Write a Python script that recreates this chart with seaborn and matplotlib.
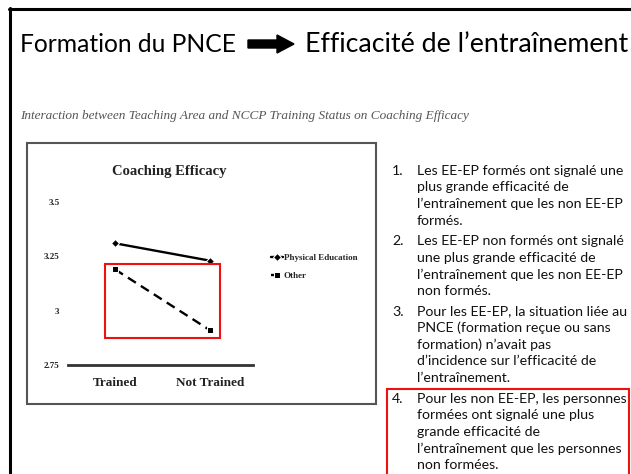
import matplotlib
matplotlib.use("Agg")
import matplotlib.pyplot as plt
import matplotlib.patches as mpatches
import seaborn as sns
import pandas as pd

# ---------------- data ----------------
conditions = ["Trained", "Not Trained"]
groups = ["Physical Education", "Other"]
pe_values = [3.31, 3.23]
other_values = [3.19, 2.91]
y_ticks = [2.75, 3.0, 3.25, 3.5]
y_tick_labels = ["2.75", "3", "3.25", "3.5"]

title_left = "Formation du PNCE"
title_right = "Efficacité de l\u2019entraînement"
subtitle = "Interaction between Teaching Area and NCCP Training Status on Coaching Efficacy"
chart_title = "Coaching Efficacy"
items = [
    ["Les EE-EP formés ont signalé une", "plus grande efficacité de",
     "l\u2019entraînement que les non EE-EP", "formés."],
    ["Les EE-EP non formés ont signalé", "une plus grande efficacité de",
     "l\u2019entraînement que les non EE-EP", "non formés."],
    ["Pour les EE-EP, la situation liée au", "PNCE (formation reçue ou sans",
     "formation) n\u2019avait pas", "d\u2019incidence sur l\u2019efficacité de",
     "l\u2019entraînement."],
    ["Pour les non EE-EP, les personnes", "formées ont signalé une plus",
     "grande efficacité de", "l\u2019entraînement que les personnes",
     "non formées."],
]

df = pd.DataFrame({
    "Condition": conditions * 2,
    "Efficacy": pe_values + other_values,
    "Group": [groups[0]] * 2 + [groups[1]] * 2,
})

# ---------------- figure ----------------
W, H = 631, 474
sns.set_theme(style="white")
fig = plt.figure(figsize=(W / 100, H / 100), dpi=100)
fig.patch.set_facecolor("white")
renderer = fig.canvas.get_renderer()

def fx(x):
    return x / W

def fy(y):
    return 1 - y / H

SANS = ["Lato", "DejaVu Sans"]
SERIF = ["Liberation Serif", "DejaVu Serif"]

def fit_size(strings, target_w, **kw):
    """font size so that the widest string is target_w pixels wide"""
    best = 0
    for s in strings:
        t = fig.text(0, 0, s, fontsize=10, **kw)
        best = max(best, t.get_window_extent(renderer).width)
        t.remove()
    return 10 * target_w / best

# slide frame
fig.add_artist(plt.Line2D([fx(10), fx(10)], [fy(8), fy(480)], color="black", lw=2.2))
fig.add_artist(plt.Line2D([fx(9), fx(640)], [fy(9), fy(9)], color="black", lw=2.2))

# title
ts_l = fit_size([title_left], 216, family=SANS)
ts_r = fit_size([title_right], 323, family=SANS)
fig.text(fx(20), fy(44), title_left, ha="left", va="center", fontsize=ts_l,
         family=SANS, color="black")
fig.text(fx(305), fy(44), title_right, ha="left", va="center", fontsize=ts_r,
         family=SANS, color="black")
arrow = mpatches.Polygon(
    [(fx(248), fy(40)), (fx(277), fy(40)), (fx(277), fy(35)), (fx(294), fy(44)),
     (fx(277), fy(53)), (fx(277), fy(48)), (fx(248), fy(48))],
    closed=True, transform=fig.transFigure, color="black")
fig.add_artist(arrow)

# subtitle
ss = fit_size([subtitle], 450, family=SERIF, style="italic")
fig.text(fx(20), fy(116), subtitle, ha="left", va="center", fontsize=ss,
         family=SERIF, style="italic", color="#555555")

# chart box
fig.add_artist(mpatches.Rectangle((fx(27), fy(404)), fx(376) - fx(27), fy(143) - fy(404),
                                  transform=fig.transFigure, fill=False,
                                  edgecolor="#555555", lw=1.5))

# plot axes: x 68->253 px, y 365 (2.75) -> 202 (3.5)
ax = fig.add_axes([fx(68), fy(365), fx(253) - fx(68), fy(202) - fy(365)])
ax.set_facecolor("none")
sns.lineplot(data=df, x="Condition", y="Efficacy", hue="Group", style="Group",
             hue_order=groups, style_order=groups,
             palette={groups[0]: "black", groups[1]: "black"},
             markers={groups[0]: "D", groups[1]: "s"},
             dashes={groups[0]: "", groups[1]: (4, 2.5)},
             markersize=4, lw=1.7, ax=ax, legend=True)
ax.set_xlim(-0.495, 1.453)
ax.set_ylim(2.75, 3.5)
ax.set_yticks(y_ticks)
ax.set_yticklabels(y_tick_labels, family=SERIF, fontweight="bold", fontsize=6.5,
                   color="#222222")
ax.set_xticks([0, 1])
ax.set_xticklabels(conditions, family=SERIF, fontweight="bold", fontsize=9.5,
                   color="#222222")
ax.tick_params(axis="y", length=0, pad=6)
ax.tick_params(axis="x", length=0, pad=9)
ax.set_xlabel("")
ax.set_ylabel("")
for side in ["top", "right", "left"]:
    ax.spines[side].set_visible(False)
ax.spines["bottom"].set_color("#333333")
ax.spines["bottom"].set_linewidth(2.0)
ax.spines["bottom"].set_zorder(0)

handles, labels = ax.get_legend_handles_labels()
ax.get_legend().remove()
fig.legend(handles, labels, loc="upper left",
           bbox_to_anchor=(fx(271), fy(254)), frameon=False,
           prop={"family": SERIF, "weight": "bold", "size": 6.5},
           handlelength=1.3, handletextpad=0.1, labelspacing=1.0,
           borderpad=0, borderaxespad=0)

fig.text(fx(169), fy(172), chart_title, ha="center", va="center", fontsize=10.5,
         family=SERIF, fontweight="bold", color="#222222")

# red highlight box on the plot
fig.add_artist(mpatches.Rectangle((fx(105), fy(338)), fx(220) - fx(105), fy(264) - fy(338),
                                  transform=fig.transFigure, fill=False,
                                  edgecolor="#ee1111", lw=1.5))

# numbered list
all_lines = [ln for it in items for ln in it]
ls = fit_size(all_lines, 211, family=SANS)
line_h = 16.6
gap = 4
y_last = 465
y = y_last - (len(all_lines) - 1) * line_h - (len(items) - 1) * gap
item4_top = None
for i, lines in enumerate(items):
    if i == 3:
        item4_top = y - 9.5
    fig.text(fx(392), fy(y), f"{i + 1}.", ha="left", va="center", fontsize=ls,
             family=SANS, color="#111111")
    for ln in lines:
        fig.text(fx(417), fy(y), ln, ha="left", va="center", fontsize=ls,
                 family=SANS, color="#111111")
        y += line_h
    y += gap

fig.add_artist(mpatches.Rectangle((fx(387), fy(490)), fx(629) - fx(387),
                                  fy(item4_top) - fy(490),
                                  transform=fig.transFigure, fill=False,
                                  edgecolor="#ee1111", lw=1.5))

fig.savefig("out.png", dpi=100, facecolor="white")
